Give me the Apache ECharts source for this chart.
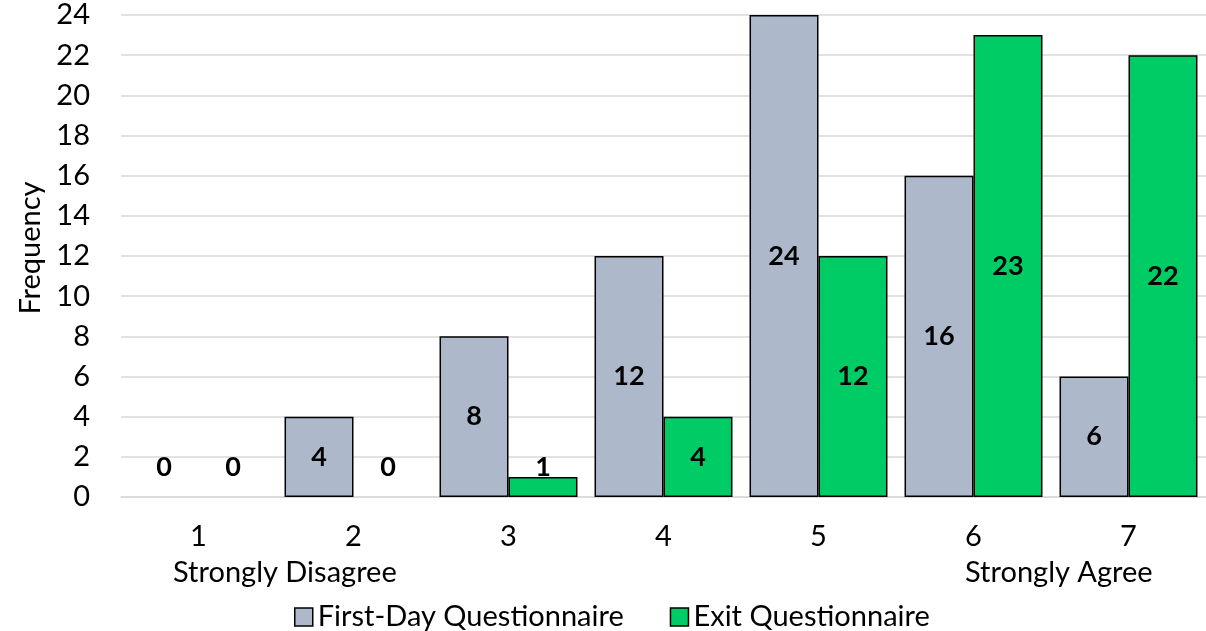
<!DOCTYPE html>
<html>
<head>
<meta charset="utf-8">
<script src="https://cdn.jsdelivr.net/npm/echarts@6/dist/echarts.min.js"></script>
<style>
  html, body { margin: 0; padding: 0; background: #fff; }
  #chart { width: 1206px; height: 631px; }
</style>
</head>
<body>
<div id="chart"></div>
<script>
// Likert scale responses (1 = Strongly Disagree ... 7 = Strongly Agree)
const categories = ['1', '2', '3', '4', '5', '6', '7'];
const firstDay = [0, 4, 8, 12, 24, 16, 6];
const exitQ = [0, 0, 1, 4, 12, 23, 22];
const seriesNames = ['First-Day Questionnaire', 'Exit Questionnaire'];
const yTicks = { min: 0, max: 24, interval: 2 };

const FONT = 'Lato, "Open Sans", sans-serif';
const TEXT_SIZE = 29;

// small bars get their label lifted above the axis so it stays readable;
// empty bars drop their outline
function withLabels(values) {
  return values.map(v => {
    const item = { value: v };
    if (v <= 1) item.label = { position: 'insideBottom', distance: 16 };
    if (v === 0) item.itemStyle = { borderWidth: 0 };
    return item;
  });
}

const labelStyle = {
  show: true,
  position: 'inside',
  color: '#000',
  fontFamily: FONT,
  fontWeight: 'bold',
  fontSize: 27
};

const chart = echarts.init(document.getElementById('chart'));
chart.setOption({
  animation: false,
  textStyle: { fontFamily: FONT },
  grid: { left: 121, right: 0, top: 15, bottom: 134, containLabel: false },
  legend: {
    top: 602,
    left: 294,
    padding: 0,
    itemWidth: 18,
    itemHeight: 18,
    itemGap: 46,
    icon: 'rect',
    itemStyle: { borderColor: '#000', borderWidth: 1.5 },
    textStyle: { fontFamily: FONT, fontSize: TEXT_SIZE, color: '#000', lineHeight: 30 },
    data: seriesNames
  },
  xAxis: {
    type: 'category',
    data: categories,
    axisLine: { lineStyle: { color: '#d9d9d9', width: 1.5 } },
    axisTick: { show: false },
    axisLabel: { margin: 25, fontSize: TEXT_SIZE, color: '#000', fontFamily: FONT }
  },
  yAxis: {
    type: 'value',
    min: yTicks.min,
    max: yTicks.max,
    interval: yTicks.interval,
    name: 'Frequency',
    nameLocation: 'middle',
    nameGap: 74,
    nameTextStyle: { fontSize: TEXT_SIZE, color: '#000', fontFamily: FONT, padding: [0, 0, 0, 16] },
    axisLine: { show: false },
    axisTick: { show: false },
    axisLabel: { margin: 31, fontSize: TEXT_SIZE, color: '#000', fontFamily: FONT },
    splitLine: { lineStyle: { color: '#d9d9d9', width: 1.5 } }
  },
  series: [
    {
      name: seriesNames[0],
      type: 'bar',
      data: withLabels(firstDay),
      barGap: '0%',
      barCategoryGap: '11%',
      itemStyle: { color: '#adb9ca', borderColor: '#000', borderWidth: 1.5 },
      label: labelStyle
    },
    {
      name: seriesNames[1],
      type: 'bar',
      data: withLabels(exitQ),
      barGap: '0%',
      barCategoryGap: '11%',
      itemStyle: { color: '#00cc66', borderColor: '#000', borderWidth: 1.5 },
      label: labelStyle
    }
  ],
  graphic: [
    {
      type: 'text', left: 173, top: 558,
      style: { text: 'Strongly Disagree', font: TEXT_SIZE + 'px ' + FONT, fill: '#000' }
    },
    {
      type: 'text', left: 965, top: 558,
      style: { text: 'Strongly Agree', font: TEXT_SIZE + 'px ' + FONT, fill: '#000' }
    }
  ]
});
</script>
</body>
</html>
